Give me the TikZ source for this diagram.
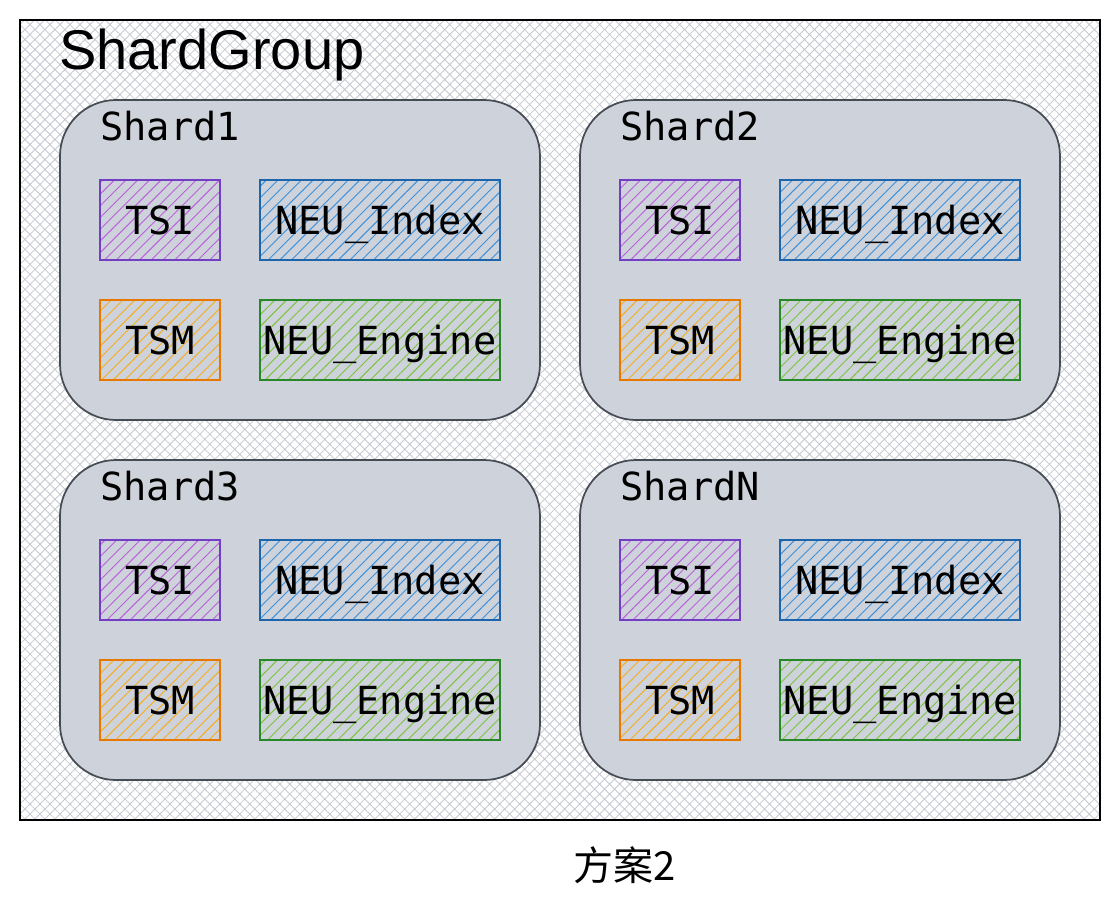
\documentclass[tikz,border=0pt]{standalone}
\usepackage{fontspec}
\setsansfont{Liberation Sans}
\setmonofont{DejaVu Sans Mono}
\newfontfamily\cjk{Noto Sans CJK SC}
\usetikzlibrary{patterns.meta, positioning}
\definecolor{shardgray}{RGB}{206,210,218}
\definecolor{sharddark}{RGB}{70,76,84}
\definecolor{gridgray}{RGB}{196,200,208}
\definecolor{tsiline}{RGB}{114,62,196}
\definecolor{tsihatch}{RGB}{186,96,218}
\definecolor{idxline}{RGB}{30,100,170}
\definecolor{idxhatch}{RGB}{60,145,220}
\definecolor{tsmline}{RGB}{230,120,0}
\definecolor{tsmhatch}{RGB}{245,172,30}
\definecolor{engline}{RGB}{40,135,40}
\definecolor{enghatch}{RGB}{125,195,60}
\tikzset{
    sggroup/.style={draw=black, line width=1.5pt, inner sep=0pt, outer sep=0pt,
        minimum width=810pt, minimum height=600pt,
        pattern={Hatch[angle=45, distance=5.3pt, line width=0.6pt]}, pattern color=gridgray},
    sgshard/.style={draw=sharddark, line width=1.3pt, fill=shardgray, rounded corners=42pt,
        inner sep=0pt, outer sep=0pt, minimum width=360pt, minimum height=240pt},
    sgpart/.style={draw=#1line, line width=0.9pt, inner sep=0pt, outer sep=0pt,
        pattern={Lines[angle=45, distance=6.2pt, line width=0.7pt]}, pattern color=#1hatch,
        minimum height=60pt, text height=21pt, text depth=0pt,
        font=\ttfamily\fontsize{29}{34}\selectfont},
    sglabel/.style={inner sep=0pt, font=\ttfamily\fontsize{29}{34}\selectfont},
    sgtitle/.style={inner sep=0pt, font=\sffamily\fontsize{42}{48}\selectfont}
}
\begin{document}
\begin{tikzpicture}[x=0.75pt, y=-0.75pt]
  \fill[white] (0,0) rectangle (1120,914);
  \useasboundingbox (0,0) rectangle (1120,914);
  \node[sggroup, anchor=north west] (grp) at (20,20) {};
  \node[sgtitle, anchor=base west] (title) at (59,69) {ShardGroup};
  \foreach \i/\x/\y/\lbl in {1/60/100/Shard1, 2/580/100/Shard2, 3/60/460/Shard3, N/580/460/ShardN} {
      \node[sgshard, anchor=north west] (s\i) at (\x,\y) {};
      \node[sglabel, anchor=base west] (l\i) at (\x+40,\y+40) {\lbl};
      \node[sgpart=tsi, minimum width=90pt, anchor=north west] (tsi\i) at (\x+40,\y+80) {TSI};
      \node[sgpart=idx, minimum width=180pt, anchor=north west] (idx\i) at (\x+200,\y+80) {NEU\_Index};
      \node[sgpart=tsm, minimum width=90pt, anchor=north west] (tsm\i) at (\x+40,\y+200) {TSM};
      \node[sgpart=eng, minimum width=180pt, anchor=north west] (eng\i) at (\x+200,\y+200) {NEU\_Engine};
  }
  \node[font=\cjk\fontsize{30}{34}\selectfont] (plan) at (625,865) {方案2};
\end{tikzpicture}
\end{document}
